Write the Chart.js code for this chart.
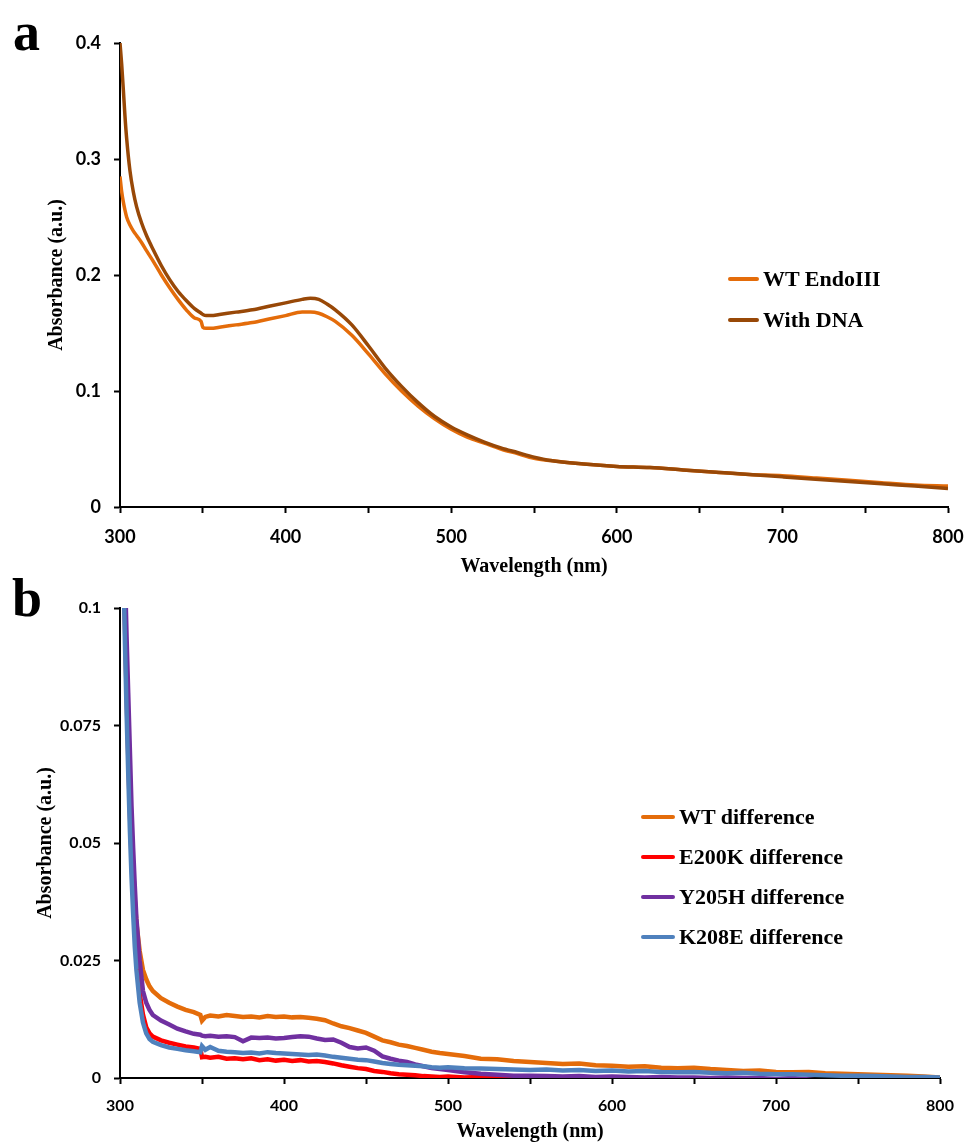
<!DOCTYPE html>
<html lang="en">
<head>
<meta charset="UTF-8">
<title>Absorbance spectra</title>
<script src="https://cdn.jsdelivr.net/npm/chart.js"></script>
<style>
  body { margin: 0; background: #fff; }
  .fig { position: relative; width: 967px; height: 1145px; background: #fff; }
  .fig canvas { position: absolute; left: 0; }
  #chartA { top: 0; }
  #chartB { top: 580px; }
  .letter { position: absolute; font-family: "Liberation Serif", serif; font-weight: bold; font-size: 54px; line-height: 1; color: #000; }
  .leg { position: absolute; display: flex; align-items: center; font-family: "Liberation Serif", serif; font-weight: bold; font-size: 22px; color: #000; height: 24px; white-space: nowrap; }
  .leg span.sw { display: inline-block; height: 4px; border-radius: 2px; margin-right: 4px; }
</style>
</head>
<body>
<div class="fig" id="fig">
  <canvas id="chartA" width="967" height="580"></canvas>
  <canvas id="chartB" width="967" height="565"></canvas>
  <div class="letter" style="left:13px; top:5px;">a</div>
  <div class="letter" style="left:12px; top:571px;">b</div>
</div>

<script>
// ---- panel a ----
const wlA = [300, 301, 302, 303, 304, 306, 308, 310, 313, 316, 320, 325, 330, 335, 340, 345, 349, 350, 352, 355, 360, 370, 380, 390, 400, 410, 415, 420, 425, 430, 440, 450, 460, 470, 480, 490, 500, 510, 520, 530, 540, 550, 560, 580, 600, 620, 640, 660, 680, 700, 720, 740, 760, 780, 800];
const wtEndo = [0.285, 0.272, 0.263, 0.256, 0.250, 0.243, 0.238, 0.234, 0.228, 0.221, 0.212, 0.200, 0.189, 0.179, 0.170, 0.163, 0.160, 0.155, 0.154, 0.154, 0.155, 0.157, 0.159, 0.162, 0.165, 0.168, 0.168, 0.167, 0.164, 0.160, 0.148, 0.132, 0.115, 0.100, 0.087, 0.076, 0.067, 0.060, 0.055, 0.050, 0.046, 0.042, 0.040, 0.037, 0.035, 0.034, 0.032, 0.030, 0.028, 0.027, 0.025, 0.023, 0.021, 0.019, 0.018];
const withDna = [0.400, 0.382, 0.360, 0.337, 0.318, 0.290, 0.272, 0.259, 0.245, 0.234, 0.222, 0.208, 0.196, 0.186, 0.178, 0.171, 0.167, 0.166, 0.165, 0.165, 0.166, 0.168, 0.170, 0.173, 0.176, 0.179, 0.180, 0.179, 0.175, 0.170, 0.157, 0.139, 0.120, 0.104, 0.090, 0.078, 0.069, 0.062, 0.056, 0.051, 0.047, 0.043, 0.040, 0.037, 0.035, 0.034, 0.032, 0.030, 0.028, 0.026, 0.024, 0.022, 0.020, 0.018, 0.016];
const namesA = ['WT EndoIII', 'With DNA'];
const coloursA = ['#E46C0A', '#984807'];
const yTicksA = [0, 0.1, 0.2, 0.3, 0.4];

// ---- panel b ----
const wlB = [300, 302, 303, 304, 305, 306, 307, 308, 309, 310, 312, 314, 316, 318, 320, 325, 330, 335, 340, 345, 349, 350, 352, 355, 360, 365, 370, 375, 380, 385, 390, 395, 400, 405, 410, 415, 420, 425, 430, 435, 440, 445, 450, 455, 460, 465, 470, 475, 480, 485, 490, 495, 500, 510, 520, 530, 540, 550, 560, 570, 580, 590, 600, 610, 620, 630, 640, 650, 660, 670, 680, 690, 700, 710, 720, 730, 740, 750, 760, 770, 780, 790, 800];
const wtDiff = [0.160, 0.118, 0.100, 0.086, 0.074, 0.063, 0.053, 0.045, 0.038, 0.033, 0.027, 0.023, 0.021, 0.0195, 0.0185, 0.0170, 0.0160, 0.0152, 0.0145, 0.0140, 0.0134, 0.0122, 0.0130, 0.0133, 0.0131, 0.0134, 0.0132, 0.0130, 0.0131, 0.0129, 0.0132, 0.0130, 0.0131, 0.0129, 0.0130, 0.0128, 0.0126, 0.0123, 0.0116, 0.0110, 0.0106, 0.0101, 0.0096, 0.0088, 0.0080, 0.0076, 0.0071, 0.0068, 0.0064, 0.0060, 0.0056, 0.0053, 0.0051, 0.0047, 0.0041, 0.0040, 0.0036, 0.0034, 0.0032, 0.0030, 0.0031, 0.0027, 0.0026, 0.0024, 0.0025, 0.0022, 0.0021, 0.0022, 0.0019, 0.0017, 0.0015, 0.0016, 0.0013, 0.0012, 0.0013, 0.0010, 0.0009, 0.0008, 0.0007, 0.0006, 0.0005, 0.0003, 0.0001];
const e200kDiff = [0.160, 0.115, 0.097, 0.082, 0.069, 0.057, 0.047, 0.039, 0.032, 0.026, 0.018, 0.0135, 0.0108, 0.0095, 0.0088, 0.0080, 0.0075, 0.0071, 0.0067, 0.0065, 0.0062, 0.0044, 0.0045, 0.0043, 0.0045, 0.0041, 0.0042, 0.0040, 0.0042, 0.0038, 0.0040, 0.0037, 0.0039, 0.0036, 0.0038, 0.0035, 0.0036, 0.0034, 0.0031, 0.0027, 0.0024, 0.0021, 0.0019, 0.0015, 0.0013, 0.0010, 0.0008, 0.0007, 0.0006, 0.0004, 0.0003, 0.0002, 0.0003, 0.0001, 0.0002, 0.0000, 0.0001, 0.0000, -0.0001, -0.0004, -0.0010, -0.0010, -0.0010, -0.0010, -0.0010, -0.0010, -0.0010, -0.0010, -0.0010, -0.0010, -0.0010, -0.0010, -0.0010, -0.0010, -0.0010, -0.0010, -0.0010, -0.0010, -0.0010, -0.0010, -0.0010, -0.0010, -0.0010];
const y205hDiff = [0.170, 0.125, 0.108, 0.094, 0.082, 0.070, 0.058, 0.049, 0.041, 0.034, 0.025, 0.0185, 0.0160, 0.0145, 0.0134, 0.0122, 0.0114, 0.0105, 0.0099, 0.0094, 0.0092, 0.0090, 0.0089, 0.0090, 0.0088, 0.0089, 0.0087, 0.0078, 0.0086, 0.0085, 0.0086, 0.0084, 0.0085, 0.0087, 0.0089, 0.0088, 0.0084, 0.0081, 0.0082, 0.0075, 0.0066, 0.0063, 0.0065, 0.0058, 0.0046, 0.0041, 0.0037, 0.0034, 0.0029, 0.0025, 0.0021, 0.0019, 0.0017, 0.0012, 0.0009, 0.0007, 0.0005, 0.0005, 0.0004, 0.0003, 0.0004, 0.0002, 0.0003, 0.0002, 0.0001, 0.0002, 0.0001, 0.0001, 0.0000, 0.0001, 0.0000, 0.0000, -0.0002, 0.0000, -0.0003, -0.0008, -0.0010, -0.0010, -0.0010, -0.0010, -0.0010, -0.0010, -0.0010];
const k208eDiff = [0.155, 0.110, 0.093, 0.078, 0.065, 0.053, 0.043, 0.035, 0.028, 0.023, 0.016, 0.0118, 0.0095, 0.0083, 0.0077, 0.0070, 0.0065, 0.0062, 0.0059, 0.0057, 0.0055, 0.0068, 0.0060, 0.0066, 0.0058, 0.0056, 0.0055, 0.0053, 0.0054, 0.0052, 0.0055, 0.0053, 0.0052, 0.0051, 0.0050, 0.0049, 0.0050, 0.0048, 0.0045, 0.0043, 0.0041, 0.0039, 0.0038, 0.0035, 0.0032, 0.0030, 0.0028, 0.0027, 0.0026, 0.0025, 0.0023, 0.0022, 0.0023, 0.0021, 0.0020, 0.0019, 0.0018, 0.0017, 0.0018, 0.0016, 0.0017, 0.0015, 0.0016, 0.0014, 0.0015, 0.0013, 0.0012, 0.0013, 0.0011, 0.0010, 0.0011, 0.0009, 0.0008, 0.0008, 0.0007, 0.0006, 0.0005, 0.0005, 0.0004, 0.0003, 0.0002, 0.0002, 0.0001];
const namesB = ['WT difference', 'E200K difference', 'Y205H difference', 'K208E difference'];
const coloursB = ['#E46C0A', '#FF0000', '#7030A0', '#4F81BD'];
const yTicksB = [0, 0.025, 0.05, 0.075, 0.1];

const xTicks = [300, 350, 400, 450, 500, 550, 600, 650, 700, 750, 800];

const serif = '"Liberation Serif", "Times New Roman", serif';
const sans = 'Lato, "Liberation Sans", sans-serif';

function pts(xs, ys) {
  return xs.map((x, i) => ({x: x, y: ys[i]}));
}

function makeOptions(o) {
  return {
    responsive: false,
    animation: false,
    layout: { padding: { top: o.top, right: o.right, left: 0, bottom: 0 } },
    plugins: { legend: { display: false }, tooltip: { enabled: false } },
    elements: { point: { radius: 0 } },
    scales: {
      x: {
        type: 'linear', min: 300, max: 800,
        afterBuildTicks: axis => { axis.ticks = xTicks.map(v => ({value: v})); },
        afterFit: axis => { axis.height = o.xh; axis.paddingLeft = 0; axis.paddingRight = 0; },
        grid: { drawOnChartArea: false, color: '#000', tickColor: '#000', tickLength: 6, tickWidth: 2 },
        border: { color: '#000', width: 2 },
        ticks: {
          color: '#000', padding: o.xpad, maxRotation: 0, autoSkip: false,
          font: { family: sans, weight: 'bold', size: o.tickSize },
          callback: v => (v % 100 === 0 ? String(v) : '')
        },
        title: {
          display: true, text: 'Wavelength (nm)', color: '#000',
          font: { family: serif, weight: 'bold', size: 20 },
          padding: { top: 0, bottom: o.xtitlePad }
        }
      },
      y: {
        min: 0, max: o.ymax,
        afterBuildTicks: axis => { axis.ticks = o.yTicks.map(v => ({value: v})); },
        afterFit: axis => { axis.width = 120; },
        grid: { drawOnChartArea: false, color: '#000', tickColor: '#000', tickLength: 6, tickWidth: 2 },
        border: { color: '#000', width: 2 },
        ticks: {
          color: '#000', padding: 13,
          font: { family: sans, weight: 'bold', size: o.tickSize },
          callback: v => String(v)
        },
        title: {
          display: true, text: 'Absorbance (a.u.)', color: '#000',
          font: { family: serif, weight: 'bold', size: 20 },
          padding: { top: o.ytitlePad, bottom: 0 }
        }
      }
    }
  };
}

new Chart(document.getElementById('chartA'), {
  type: 'line',
  data: {
    datasets: [
      { label: namesA[0], data: pts(wlA, wtEndo), borderColor: coloursA[0], borderWidth: 3.5, cubicInterpolationMode: 'monotone', order: 2, clip: 0 },
      { label: namesA[1], data: pts(wlA, withDna), borderColor: coloursA[1], borderWidth: 3.5, cubicInterpolationMode: 'monotone', order: 1, clip: 0 }
    ]
  },
  options: makeOptions({ top: 43, right: 19, xh: 73, xpad: 13, tickSize: 18, ymax: 0.4, yTicks: yTicksA, xtitlePad: 1, ytitlePad: 45 })
});

new Chart(document.getElementById('chartB'), {
  type: 'line',
  data: {
    datasets: [
      { label: namesB[0], data: pts(wlB, wtDiff), borderColor: coloursB[0], borderWidth: 4.5, order: 4, clip: 0 },
      { label: namesB[1], data: pts(wlB, e200kDiff), borderColor: coloursB[1], borderWidth: 4.5, order: 3, clip: 0 },
      { label: namesB[2], data: pts(wlB, y205hDiff), borderColor: coloursB[2], borderWidth: 4.5, order: 2, clip: 0 },
      { label: namesB[3], data: pts(wlB, k208eDiff), borderColor: coloursB[3], borderWidth: 4.5, order: 1, clip: 0 }
    ]
  },
  options: makeOptions({ top: 28, right: 27, xh: 67, xpad: 12, tickSize: 16, ymax: 0.1, yTicks: yTicksB, xtitlePad: 1, ytitlePad: 34 })
});

// legends built from the series names and colours
function legend(names, colours, left, firstCentre, gap, swatch) {
  const fig = document.getElementById('fig');
  names.forEach((n, i) => {
    const row = document.createElement('div');
    row.className = 'leg';
    row.style.left = left + 'px';
    row.style.top = (firstCentre + i * gap - 12) + 'px';
    const sw = document.createElement('span');
    sw.className = 'sw';
    sw.style.width = swatch + 'px';
    sw.style.background = colours[i];
    row.appendChild(sw);
    row.appendChild(document.createTextNode(n));
    fig.appendChild(row);
  });
}
legend(namesA, coloursA, 728, 279, 41, 31);
legend(namesB, coloursB, 641, 817, 40, 34);
</script>
</body>
</html>
